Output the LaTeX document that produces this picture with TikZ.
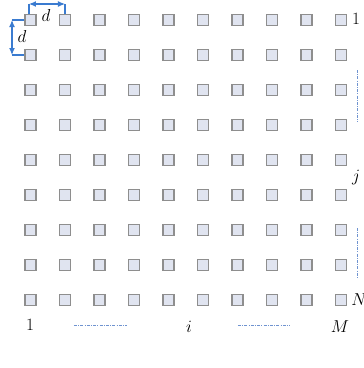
\documentclass[tikz,border=0pt]{standalone}
\usetikzlibrary{arrows.meta}
\definecolor{sqfill}{HTML}{E0E4F0}
\definecolor{sqdraw}{HTML}{8E8E8E}
\definecolor{arrblue}{HTML}{3A7BD0}
\definecolor{dashblue}{HTML}{6F93D0}
\tikzset{
  cell/.style={draw=sqdraw,fill=sqfill,line width=1.1pt,minimum size=11pt,inner sep=0pt},
  lab/.style={font=\fontsize{18}{21}\selectfont,inner sep=0pt},
  dimarrow/.style={draw=arrblue,line width=1.1pt,{Latex[length=7pt,width=6pt]}-{Latex[length=7pt,width=6pt]}},
  extline/.style={draw=arrblue,line width=1.1pt},
  dotline/.style={draw=dashblue,line width=0.9pt,dash pattern=on 3pt off 1.2pt on 1pt off 1.2pt}
}
\begin{document}
\begin{tikzpicture}[x=1pt,y=-1pt]
\useasboundingbox (0,0) rectangle (364,368);
\foreach \i in {0,...,9}{
  \foreach \j in {0,...,8}{
    \node[cell] (s-\i-\j) at ({30.5+34.5*\i},{20+35*\j}) {};
  }
}
% dimension d horizontal
\coordinate (ha) at (29,4);
\coordinate (hb) at (65,4);
\draw[extline] (ha) -- (s-0-0.north west -| ha);
\draw[extline] (hb) -- (s-1-0.north west -| hb);
\draw[dimarrow] (ha) -- (hb);
\node[lab] (dh) at (46,15) {$d$};
% dimension d vertical
\coordinate (va) at (12,20);
\coordinate (vb) at (12,55);
\draw[extline] (va) -- (s-0-0.west |- va);
\draw[extline] (vb) -- (s-0-1.west |- vb);
\draw[dimarrow] (va) -- (vb);
\node[lab] (dv) at (22,36) {$d$};
% labels
\node[lab] (r1) at (356,19) {$1$};
\node[lab] (rj) at (356,178) {$j$};
\node[lab] (rN) at (359,300) {$N$};
\node[lab] (c1) at (30,325) {$1$};
\node[lab] (ci) at (189,327) {$i$};
\node[lab] (cM) at (340,327) {$M$};
% dotted lines
\coordinate (d1a) at (74,325); \coordinate (d1b) at (127,325);
\coordinate (d2a) at (238,325); \coordinate (d2b) at (290,325);
\coordinate (d3a) at (357,70); \coordinate (d3b) at (357,122);
\coordinate (d4a) at (357,228); \coordinate (d4b) at (357,278);
\draw[dotline] (d1a) -- (d1b);
\draw[dotline] (d2a) -- (d2b);
\draw[dotline] (d3a) -- (d3b);
\draw[dotline] (d4a) -- (d4b);
\end{tikzpicture}
\end{document}
